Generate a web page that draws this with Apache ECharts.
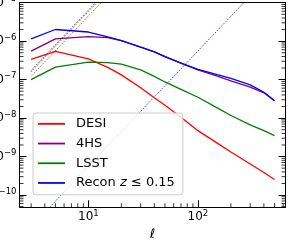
<!DOCTYPE html>
<html><head><meta charset="utf-8">
<script src="https://cdn.jsdelivr.net/npm/echarts@6/dist/echarts.min.js"></script>
<style>html,body{margin:0;padding:0;background:#fff}#c{width:293px;height:240px}</style>
</head><body><div id="c"></div>
<script>
// multipole ell
const ell = [3, 5, 10, 15, 20, 30, 40, 50, 70, 100, 150, 200, 300, 400, 500];
const desi   = [3.36e-7, 5.41e-7, 3.46e-7, 2.08e-7, 1.33e-7, 6.13e-8, 3.38e-8, 2.16e-8, 1.05e-8, 4.72e-9, 2.24e-9, 1.31e-9, 6.4e-10, 3.85e-10, 2.54e-10];
const fourHS = [5.51e-7, 1.15e-6, 1.32e-6, 1.23e-6, 1.04e-6, 7.0e-7, 5.25e-7, 3.97e-7, 2.68e-7, 1.79e-7, 1.24e-7, 9.3e-8, 6.36e-8, 4.55e-8, 2.82e-8];
const lsst   = [1.0e-7, 2.12e-7, 2.86e-7, 2.77e-7, 2.52e-7, 1.79e-7, 1.22e-7, 8.7e-8, 5.6e-8, 3.48e-8, 1.84e-8, 1.17e-8, 6.67e-9, 4.72e-9, 3.52e-9];
const recon  = [1.15e-6, 2.01e-6, 1.73e-6, 1.30e-6, 1.04e-6, 7.0e-7, 5.25e-7, 3.97e-7, 2.68e-7, 1.85e-7, 1.34e-7, 1.08e-7, 7.33e-8, 4.69e-8, 2.82e-8];
// noise curves (dotted), two points
const noiseEll = [3, 30];
const desiNoise   = [1.22e-7, 1.22e-4];
const fourHSNoise = [1.74e-7, 1.74e-4];
const lsstNoise   = [1.6e-7, 1.6e-4];
const reconNoiseEll = [3, 300];
const reconNoise  = [1.5e-11, 1.5e-5];
// legend
const seriesNames = ['DESI', '4HS', 'LSST', 'Recon z≤0.15'];
const colors = ['#ff0000', '#800080', '#008000', '#0000ff'];

const xMin = 2.35, xMax = 630, yMin = 4.8e-11, yMax = 1e-5;
const FONT = 'DejaVu Sans';
const pair = (xs, ys) => xs.map((x, i) => [x, ys[i]]);
const fmt = v => {
  const e = Math.round(Math.log10(v));
  return '{b|10}{s|' + (e < 0 ? '\u2212' + (-e) : e) + '}';
};
const labelRich = {
  b: {fontFamily: FONT, fontSize: 12, color: '#000', lineHeight: 16},
  s: {fontFamily: FONT, fontSize: 8.5, color: '#000', verticalAlign: 'top', lineHeight: 10}
};
// minor tick values (2..9 x 10^k)
const minorX = [], minorY = [];
for (let k = 0; k <= 3; k++) for (let m = 2; m <= 9; m++) { const v = m * Math.pow(10, k); if (v > xMin && v < xMax) minorX.push([v, yMin]); }
for (let k = -11; k <= -6; k++) for (let m = 2; m <= 9; m++) { const v = m * Math.pow(10, k); if (v > yMin && v < yMax) minorY.push([xMin, v]); }

const lineSeries = (name, data, color, dotted) => ({
  type: 'line', name, data, symbol: 'none', silent: true, clip: true,
  lineStyle: dotted ? {color, width: 1, type: [1, 1.5]} : {color, width: 1.3},
  itemStyle: {color}, z: dotted ? 2 : 3
});

const chart = echarts.init(document.getElementById('c'), null, {renderer: 'canvas'});
chart.setOption({
  animation: false,
  backgroundColor: '#fff',
  grid: {left: 19.5, right: 7.5, top: 2.7, bottom: 32.7, containLabel: false, outerBoundsMode: 'none'},
  xAxis: [{
    type: 'log', logBase: 10, min: xMin, max: xMax,
    name: 'ℓ', nameLocation: 'middle', nameGap: 20,
    nameTextStyle: {fontFamily: FONT, fontSize: 13, fontStyle: 'italic', color: '#000'},
    axisLine: {show: true, lineStyle: {color: '#000', width: 1}},
    axisTick: {show: true, inside: true, length: 7, lineStyle: {color: '#000', width: 1}},
    axisLabel: {show: true, formatter: fmt, rich: labelRich, margin: 2, showMinLabel: false, showMaxLabel: false},
    splitLine: {show: false}, minorTick: {show: false}
  }, {
    type: 'log', logBase: 10, min: xMin, max: xMax, position: 'top',
    axisLine: {show: true, lineStyle: {color: '#000', width: 1}},
    axisTick: {show: false}, axisLabel: {show: false}, splitLine: {show: false}
  }],
  yAxis: [{
    type: 'log', logBase: 10, min: yMin, max: yMax,
    axisLine: {show: true, lineStyle: {color: '#000', width: 1}},
    axisTick: {show: true, inside: true, length: 7, lineStyle: {color: '#000', width: 1}},
    axisLabel: {show: true, formatter: fmt, rich: labelRich, margin: 3, showMinLabel: false, showMaxLabel: true},
    splitLine: {show: false}
  }, {
    type: 'log', logBase: 10, min: yMin, max: yMax, position: 'right',
    axisLine: {show: true, lineStyle: {color: '#000', width: 1}},
    axisTick: {show: true, inside: true, length: 7, lineStyle: {color: '#000', width: 1}},
    axisLabel: {show: false}, splitLine: {show: false}
  }],
  legend: {
    data: seriesNames,
    orient: 'vertical', left: 33, top: 113,
    padding: [3, 8, 4, 5], itemGap: 4, itemWidth: 27, itemHeight: 1.8, icon: 'rect',
    backgroundColor: 'rgba(255,255,255,0.8)', borderColor: '#cccccc', borderWidth: 1, borderRadius: 3,
    formatter: n => n === 'Recon z≤0.15' ? 'Recon {i|z} ≤ 0.15' : n,
    textStyle: {fontFamily: FONT, fontSize: 13, color: '#000', padding: [0, 0, 0, 6], lineHeight: 15.7,
      rich: {i: {fontFamily: FONT, fontSize: 13, fontStyle: 'italic', color: '#000', lineHeight: 15.7}}},
    selectedMode: false
  },
  series: [
    lineSeries('DESI noise', pair(noiseEll, desiNoise), colors[0], true),
    lineSeries('LSST noise', pair(noiseEll, lsstNoise), colors[2], true),
    lineSeries('4HS noise', pair(noiseEll, fourHSNoise), colors[1], true),
    lineSeries('Recon noise', pair(reconNoiseEll, reconNoise), colors[3], true),
    lineSeries(seriesNames[0], pair(ell, desi), colors[0], false),
    lineSeries(seriesNames[1], pair(ell, fourHS), colors[1], false),
    lineSeries(seriesNames[2], pair(ell, lsst), colors[2], false),
    lineSeries(seriesNames[3], pair(ell, recon), colors[3], false),
    {
      type: 'custom', silent: true, data: minorX, clip: false,
      renderItem: (params, api) => {
        const p = api.coord([api.value(0), api.value(1)]);
        const cs = params.coordSys;
        return {type: 'line', shape: {x1: p[0], y1: cs.y + cs.height, x2: p[0], y2: cs.y + cs.height - 4}, style: {stroke: '#000', lineWidth: 0.8}};
      }
    },
    {
      type: 'custom', silent: true, data: minorY, clip: false,
      renderItem: (params, api) => {
        const p = api.coord([api.value(0), api.value(1)]);
        const cs = params.coordSys;
        return {type: 'group', children: [
          {type: 'line', shape: {x1: cs.x, y1: p[1], x2: cs.x + 4, y2: p[1]}, style: {stroke: '#000', lineWidth: 0.8}},
          {type: 'line', shape: {x1: cs.x + cs.width, y1: p[1], x2: cs.x + cs.width - 4, y2: p[1]}, style: {stroke: '#000', lineWidth: 0.8}}
        ]};
      }
    }
  ]
});
</script></body></html>
